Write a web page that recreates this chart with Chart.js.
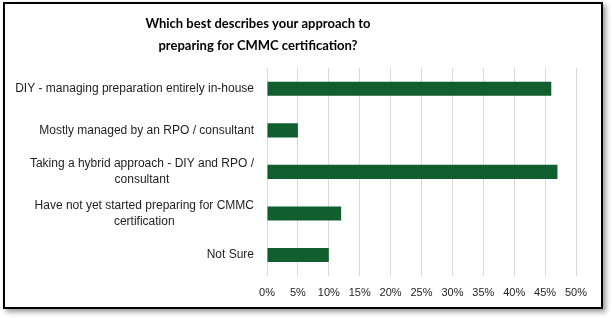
<!DOCTYPE html>
<html>
<head>
<meta charset="utf-8">
<script src="https://cdn.jsdelivr.net/npm/chart.js@4.4.0/dist/chart.umd.min.js"></script>
<style>
    html, body { margin: 0; padding: 0; background: #fff; }
    #wrap { position: relative; width: 612px; height: 318px; }
    #frame {
        position: absolute; left: 3px; top: 2px; width: 596px; height: 303px;
        border: 2px solid #000; box-shadow: 3px 3px 5px rgba(0, 0, 0, 0.4);
        pointer-events: none;
    }
    canvas { position: absolute; left: 0; top: 0; }
</style>
</head>
<body>
<div id="wrap">
    <canvas id="approachChart" width="612" height="318"></canvas>
    <div id="frame"></div>
</div>
<script>
const categories = [
    'DIY - managing preparation entirely in-house',
    'Mostly managed by an RPO / consultant',
    ['Taking a hybrid approach - DIY and RPO /', 'consultant'],
    ['Have not yet started preparing for CMMC', 'certification'],
    'Not Sure'
];
const shares = [46, 5, 47, 12, 10];
const xMax = 50;
const xStep = 5;
const titleLines = ['Which best describes your approach to', 'preparing for CMMC certification?'];

const labelFont = '"Liberation Sans", Arial, sans-serif';

// Excel puts the title a bit left of centre and centres wrapped category
// lines inside a right-aligned block, so both are drawn here by hand
const excelText = {
    id: 'excelText',
    afterDraw(chart) {
        const ctx = chart.ctx;
        const scale = chart.scales.y;
        const right = chart.chartArea.left - 13;
        ctx.save();
        ctx.textAlign = 'center';
        ctx.textBaseline = 'middle';

        ctx.font = 'bold 13px Lato, ' + labelFont;
        ctx.fillStyle = '#000';
        titleLines.forEach(function (l, k) { ctx.fillText(l, 258, 24 + k * 22); });

        ctx.font = '12px ' + labelFont;
        ctx.fillStyle = '#1e1e1e';
        scale.ticks.forEach(function (t, i) {
            const lines = [].concat(chart.data.labels[i]);
            const w = Math.max.apply(null, lines.map(function (l) { return ctx.measureText(l).width; }));
            const cx = right - w / 2;
            const y0 = scale.getPixelForTick(i) - (lines.length - 1) * 16 / 2;
            lines.forEach(function (l, k) { ctx.fillText(l, cx, y0 + k * 16); });
        });
        ctx.restore();
    }
};

const data = {
    labels: categories,
    datasets: [{
        data: shares,
        backgroundColor: '#115e2f',
        borderWidth: 0,
        categoryPercentage: 1,
        barPercentage: 0.34
    }]
};

const config = {
    type: 'bar',
    data: data,
    options: {
        indexAxis: 'y',
        responsive: false,
        animation: false,
        layout: { padding: { top: 68, right: 36, bottom: 7, left: 0 } },
        plugins: {
            legend: { display: false },
            tooltip: { enabled: false },
            title: { display: false }
        },
        scales: {
            x: {
                min: 0,
                max: xMax,
                ticks: {
                    stepSize: xStep,
                    callback: function (v) { return v + '%'; },
                    color: '#1e1e1e',
                    font: { family: labelFont, size: 11 },
                    padding: 11
                },
                grid: { color: '#d9d9d9', drawTicks: false },
                border: { display: false }
            },
            y: {
                ticks: { color: 'rgba(0,0,0,0)', padding: 13 },
                grid: { display: false, drawTicks: false },
                border: { display: false },
                afterFit: function (s) { s.width = 267; }
            }
        }
    },
    plugins: [excelText]
};

const ctx = document.getElementById('approachChart').getContext('2d');
const approachChart = new Chart(ctx, config);
</script>
</body>
</html>
